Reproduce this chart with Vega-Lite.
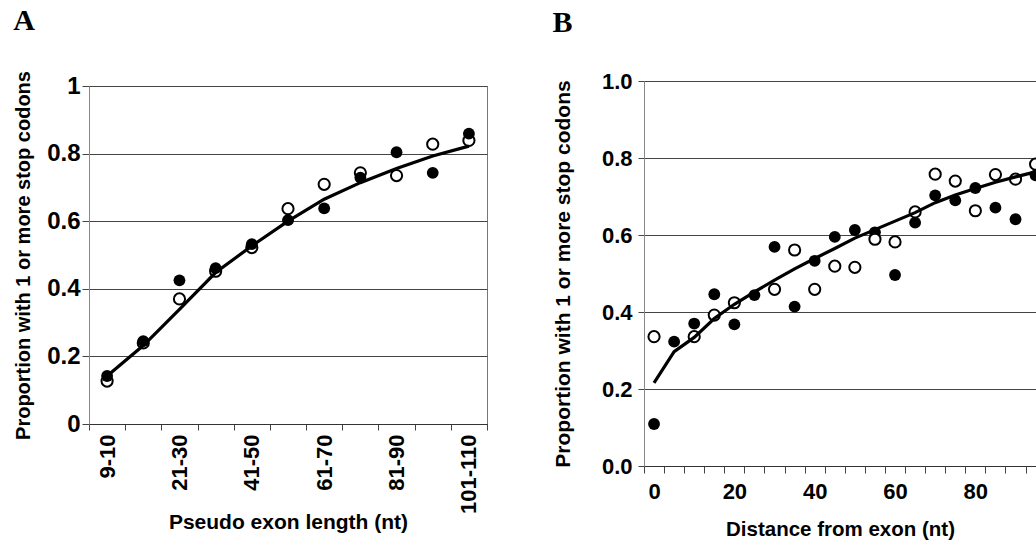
{
  "$schema": "https://vega.github.io/schema/vega-lite/v6.json",
  "background": "white",
  "padding": {"left": 13, "top": 6, "right": 0, "bottom": 0},
  "spacing": 63,
  "config": {
    "font": "Liberation Sans",
    "view": {"stroke": "#777", "strokeWidth": 1},
    "title": {"font": "Liberation Serif", "fontSize": 30, "fontWeight": "bold", "anchor": "start", "frame": "bounds", "color": "black"},
    "axis": {"labelColor": "black", "titleColor": "black", "labelFontWeight": "bold", "titleFontWeight": "bold", "domainColor": "#555", "tickColor": "#444", "gridColor": "#444", "gridWidth": 1}
  },
  "hconcat": [
    {
      "title": {"text": "A", "offset": 34},
      "bounds": "flush",
      "spacing": 4,
      "vconcat": [
        {
          "width": 398,
          "height": 1,
          "view": {"stroke": null},
          "data": {"values": [{"a": 1}]},
          "mark": {"type": "point", "opacity": 0},
          "encoding": {}
        },
        {
          "width": 398,
          "height": 338,
          "data": {"values": [
            {"cat": "9-10", "series": "filled", "value": 0.142},
            {"cat": "11-20", "series": "filled", "value": 0.245},
            {"cat": "21-30", "series": "filled", "value": 0.425},
            {"cat": "31-40", "series": "filled", "value": 0.461},
            {"cat": "41-50", "series": "filled", "value": 0.532},
            {"cat": "51-60", "series": "filled", "value": 0.603},
            {"cat": "61-70", "series": "filled", "value": 0.638},
            {"cat": "71-80", "series": "filled", "value": 0.729},
            {"cat": "81-90", "series": "filled", "value": 0.804},
            {"cat": "91-100", "series": "filled", "value": 0.743},
            {"cat": "101-110", "series": "filled", "value": 0.859},
            {"cat": "9-10", "series": "open", "value": 0.127},
            {"cat": "11-20", "series": "open", "value": 0.24},
            {"cat": "21-30", "series": "open", "value": 0.37},
            {"cat": "31-40", "series": "open", "value": 0.452},
            {"cat": "41-50", "series": "open", "value": 0.522},
            {"cat": "51-60", "series": "open", "value": 0.637},
            {"cat": "61-70", "series": "open", "value": 0.709},
            {"cat": "71-80", "series": "open", "value": 0.743},
            {"cat": "81-90", "series": "open", "value": 0.735},
            {"cat": "91-100", "series": "open", "value": 0.828},
            {"cat": "101-110", "series": "open", "value": 0.839},
            {"cat": "9-10", "series": "fit", "value": 0.142},
            {"cat": "11-20", "series": "fit", "value": 0.232},
            {"cat": "21-30", "series": "fit", "value": 0.339},
            {"cat": "31-40", "series": "fit", "value": 0.448},
            {"cat": "41-50", "series": "fit", "value": 0.527},
            {"cat": "51-60", "series": "fit", "value": 0.6},
            {"cat": "61-70", "series": "fit", "value": 0.665},
            {"cat": "71-80", "series": "fit", "value": 0.714},
            {"cat": "81-90", "series": "fit", "value": 0.756},
            {"cat": "91-100", "series": "fit", "value": 0.793},
            {"cat": "101-110", "series": "fit", "value": 0.822}
          ]},
          "encoding": {
            "x": {
              "field": "cat", "type": "ordinal",
              "sort": ["9-10","11-20","21-30","31-40","41-50","51-60","61-70","71-80","81-90","91-100","101-110"],
              "scale": {"type": "band", "paddingInner": 0, "paddingOuter": 0},
              "axis": {
                "title": "Pseudo exon length (nt)",
                "titleFontSize": 21, "titlePadding": -2,
                "labelAngle": -90, "labelFontSize": 22, "labelPadding": 4,
                "labelOverlap": false,
                "labelExpr": "indexof(['9-10','21-30','41-50','61-70','81-90','101-110'], datum.label) >= 0 ? datum.label : ''",
                "tickBand": "extent", "tickSize": 6,
                "domainColor": "#333"
              }
            },
            "y": {
              "field": "value", "type": "quantitative",
              "scale": {"domain": [0, 1], "nice": false},
              "axis": {
                "title": "Proportion with 1 or more stop codons",
                "titleFontSize": 20, "titlePadding": 13,
                "values": [0, 0.2, 0.4, 0.6, 0.8, 1], "format": "~g",
                "labelFontSize": 24, "labelPadding": 2, "tickSize": 7,
                "grid": true, "domainColor": "#888"
              }
            }
          },
          "layer": [
            {
              "transform": [{"filter": "datum.series === 'open'"}],
              "mark": {"type": "point", "shape": "circle", "filled": true, "fill": "white", "stroke": "black", "strokeWidth": 2, "size": 125, "opacity": 1}
            },
            {
              "transform": [{"filter": "datum.series === 'filled'"}],
              "mark": {"type": "point", "shape": "circle", "filled": true, "color": "black", "size": 140, "opacity": 1}
            },
            {
              "transform": [{"filter": "datum.series === 'fit'"}],
              "mark": {"type": "line", "color": "black", "strokeWidth": 3.2}
            }
          ]
        }
      ]
    },
    {
      "width": 392,
      "height": 385,
      "title": {"text": "B", "offset": 32},
      "data": {"values": [
        {"x": 0, "series": "filled", "value": 0.109},
        {"x": 5, "series": "filled", "value": 0.323},
        {"x": 10, "series": "filled", "value": 0.37},
        {"x": 15, "series": "filled", "value": 0.446},
        {"x": 20, "series": "filled", "value": 0.368},
        {"x": 25, "series": "filled", "value": 0.444},
        {"x": 30, "series": "filled", "value": 0.569},
        {"x": 35, "series": "filled", "value": 0.414},
        {"x": 40, "series": "filled", "value": 0.533},
        {"x": 45, "series": "filled", "value": 0.595},
        {"x": 50, "series": "filled", "value": 0.613},
        {"x": 55, "series": "filled", "value": 0.607},
        {"x": 60, "series": "filled", "value": 0.496},
        {"x": 65, "series": "filled", "value": 0.632},
        {"x": 70, "series": "filled", "value": 0.703},
        {"x": 75, "series": "filled", "value": 0.69},
        {"x": 80, "series": "filled", "value": 0.722},
        {"x": 85, "series": "filled", "value": 0.671},
        {"x": 90, "series": "filled", "value": 0.641},
        {"x": 95, "series": "filled", "value": 0.755},
        {"x": 0, "series": "open", "value": 0.336},
        {"x": 10, "series": "open", "value": 0.336},
        {"x": 15, "series": "open", "value": 0.392},
        {"x": 20, "series": "open", "value": 0.424},
        {"x": 30, "series": "open", "value": 0.459},
        {"x": 35, "series": "open", "value": 0.561},
        {"x": 40, "series": "open", "value": 0.459},
        {"x": 45, "series": "open", "value": 0.519},
        {"x": 50, "series": "open", "value": 0.516},
        {"x": 55, "series": "open", "value": 0.589},
        {"x": 60, "series": "open", "value": 0.582},
        {"x": 65, "series": "open", "value": 0.66},
        {"x": 70, "series": "open", "value": 0.758},
        {"x": 75, "series": "open", "value": 0.74},
        {"x": 80, "series": "open", "value": 0.663},
        {"x": 85, "series": "open", "value": 0.757},
        {"x": 90, "series": "open", "value": 0.745},
        {"x": 95, "series": "open", "value": 0.784},
        {"x": 0, "series": "fit", "value": 0.216},
        {"x": 5, "series": "fit", "value": 0.297},
        {"x": 10, "series": "fit", "value": 0.334},
        {"x": 15, "series": "fit", "value": 0.383},
        {"x": 20, "series": "fit", "value": 0.42},
        {"x": 25, "series": "fit", "value": 0.452},
        {"x": 30, "series": "fit", "value": 0.483},
        {"x": 35, "series": "fit", "value": 0.512},
        {"x": 40, "series": "fit", "value": 0.539},
        {"x": 45, "series": "fit", "value": 0.565},
        {"x": 50, "series": "fit", "value": 0.592},
        {"x": 55, "series": "fit", "value": 0.614},
        {"x": 60, "series": "fit", "value": 0.636},
        {"x": 65, "series": "fit", "value": 0.658},
        {"x": 70, "series": "fit", "value": 0.684},
        {"x": 75, "series": "fit", "value": 0.704},
        {"x": 80, "series": "fit", "value": 0.721},
        {"x": 85, "series": "fit", "value": 0.737},
        {"x": 90, "series": "fit", "value": 0.751},
        {"x": 95, "series": "fit", "value": 0.764}
      ]},
      "encoding": {
        "x": {
          "field": "x", "type": "quantitative",
          "scale": {"domain": [-2.5, 95.1], "nice": false, "zero": false},
          "axis": {
            "title": "Distance from exon (nt)",
            "titleFontSize": 20.5, "titlePadding": 17,
            "values": [-2.5,0,2.5,7.5,12.5,17.5,20,22.5,27.5,32.5,37.5,40,42.5,47.5,52.5,57.5,60,62.5,67.5,72.5,77.5,80,82.5,87.5,92.5],
            "labelExpr": "datum.value % 20 === 0 ? format(datum.value, 'd') : ''",
            "labelOverlap": false, "labelFlush": false, "labelBound": false,
            "labelFontSize": 22, "labelPadding": 8,
            "tickSize": 7,
            "tickOpacity": {"condition": {"test": "datum.value % 20 === 0", "value": 0}, "value": 1},
            "grid": false, "domainColor": "#333"
          }
        },
        "y": {
          "field": "value", "type": "quantitative",
          "scale": {"domain": [0, 1], "nice": false},
          "axis": {
            "title": "Proportion with 1 or more stop codons",
            "titleFontSize": 21, "titlePadding": 28,
            "values": [0, 0.2, 0.4, 0.6, 0.8, 1], "format": ".1f",
            "labelFontSize": 22, "labelPadding": 6, "tickSize": 6,
            "grid": true, "domainColor": "#888"
          }
        }
      },
      "layer": [
        {
          "transform": [{"filter": "datum.series === 'filled'"}],
          "mark": {"type": "point", "shape": "circle", "filled": true, "color": "black", "size": 140, "opacity": 1, "clip": true}
        },
        {
          "transform": [{"filter": "datum.series === 'open'"}],
          "mark": {"type": "point", "shape": "circle", "filled": true, "fill": "white", "stroke": "black", "strokeWidth": 2, "size": 125, "opacity": 1, "clip": true}
        },
        {
          "transform": [{"filter": "datum.series === 'fit'"}],
          "mark": {"type": "line", "color": "black", "strokeWidth": 3.2, "clip": true}
        }
      ]
    }
  ]
}
